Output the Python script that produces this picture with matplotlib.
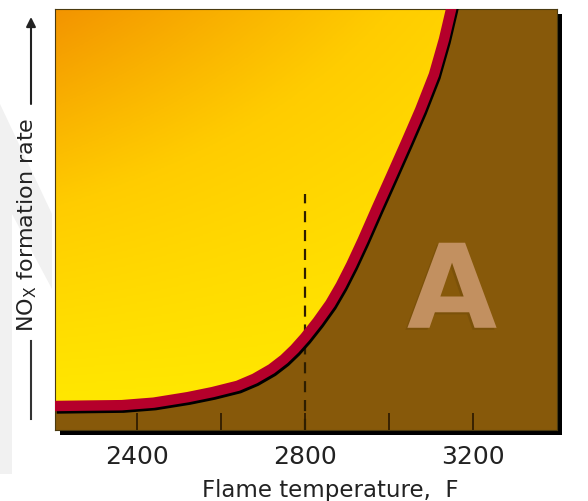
import numpy as np
import matplotlib.pyplot as plt
from matplotlib.colors import LinearSegmentedColormap
from matplotlib.patches import Polygon, Rectangle
import matplotlib.patheffects as pe

# curve (rate in arbitrary units, 0 = bottom, 100 = top)
temps = [2205, 2280, 2364, 2440, 2521, 2580, 2640, 2680, 2720, 2750, 2775, 2800,
         2830, 2860, 2885, 2910, 2937, 2970, 3005, 3041, 3074, 3107, 3131, 3148, 3156]
rates = [5.7, 5.8, 5.9, 6.5, 7.8, 9.0, 10.5, 12.2, 14.5, 16.8, 19.2, 22.0,
         25.8, 30.0, 34.3, 39.2, 45.0, 52.5, 60.3, 68.4, 76.0, 84.4, 92.8, 100.0, 104.0]

major_ticks = [2400, 2800, 3200]
minor_ticks = [2600, 3000]
ref_temp = 2800
ref_top = 56

XMIN, XMAX = 2205, 3400
YMIN, YMAX = 0, 100

BROWN = '#87590a'
RED = '#b5002b'

W, H = 588, 502
fig = plt.figure(figsize=(W / 100, H / 100), dpi=100)
fig.patch.set_facecolor('white')

# faint grey watermark at the left edge
px = [(0, 105), (52, 215), (52, 290), (12, 215), (12, 475), (0, 475)]
wm = Polygon([(x / W, 1 - y / H) for x, y in px], closed=True,
             transform=fig.transFigure, facecolor='#f1f1f1', edgecolor='none', zorder=-2)
fig.add_artist(wm)

# plot area in pixels: left 55, right 557, top 10, bottom 431
ax = fig.add_axes([55 / W, 1 - 431 / H, 502 / W, 421 / H])
ax.set_facecolor(BROWN)
ax.set_xlim(XMIN, XMAX)
ax.set_ylim(YMIN, YMAX)

# black drop shadow behind the plot box
shadow = Rectangle((60 / W, 1 - 436 / H), 502 / W, 421 / H, transform=fig.transFigure,
                   facecolor='black', edgecolor='none', zorder=-1)
fig.add_artist(shadow)

# yellow-orange gradient in the region above the curve
nx, ny = 300, 300
gx = np.linspace(0, 1, nx)
gy = np.linspace(0, 1, ny)
GX, GY = np.meshgrid(gx, gy)
grad = np.clip(GY ** 1.1 * (1 - 0.75 * GX), 0, 1)
cmap = LinearSegmentedColormap.from_list('flame', ['#ffea00', '#ffcc00', '#f39400'])
im = ax.imshow(grad, extent=[XMIN, XMAX, YMIN, YMAX], origin='lower', cmap=cmap,
               aspect='auto', zorder=1, interpolation='bilinear')
clip_pts = list(zip(temps, rates)) + [(temps[-1], 120), (XMIN - 50, 120), (XMIN - 50, rates[0])]
clip_poly = Polygon(clip_pts, closed=True, facecolor='none', edgecolor='none')
ax.add_patch(clip_poly)
im.set_clip_path(clip_poly)

# reference line at 2800 F
ax.plot([ref_temp, ref_temp], [YMIN, ref_top], color='#2e1e00', lw=1.6,
        dashes=(5, 3.5), zorder=2)

# the NOx curve with a black shadow underneath
ax.plot(temps, rates, color=RED, lw=7.5, solid_capstyle='butt', solid_joinstyle='round',
        zorder=3,
        path_effects=[pe.SimpleLineShadow(offset=(1.2, -1.8), shadow_color='black', alpha=1.0),
                      pe.Normal()])

# big "A" mark
ax.text(3150, 32, 'A', fontsize=84, fontweight='heavy', color='#c29060',
        ha='center', va='center', zorder=2, family='DejaVu Sans',
        path_effects=[pe.withSimplePatchShadow(offset=(-1.5, -1.5), shadow_rgbFace='#6a4508',
                                               alpha=0.4)])

# axes styling
for s in ax.spines.values():
    s.set_color('#4a3a10')
    s.set_linewidth(0.8)
ax.set_yticks([])
ax.set_xticks(major_ticks)
ax.set_xticks(minor_ticks, minor=True)
ax.tick_params(axis='x', which='both', direction='in', length=12, width=1.2,
               color='#2a1800', labelsize=18, pad=10)
ax.tick_params(axis='x', which='major', labelcolor='#222222')

# x label
fig.text(330 / W, 1 - 491 / H, 'Flame temperature,  F', ha='center', va='center',
         fontsize=16.5, color='#222222')

# y label with its arrow
fig.text(27 / W, 1 - 225 / H, r'NO$_{\mathregular{X}}$ formation rate', rotation=90,
         ha='center', va='center', fontsize=16, color='#222222')
fig.add_artist(plt.Line2D([31 / W, 31 / W], [1 - 342 / H, 1 - 420 / H],
                          transform=fig.transFigure, color='#333333', lw=1.5))
ax.annotate('', xy=(31 / W, 1 - 18 / H), xytext=(31 / W, 1 - 105 / H),
            xycoords='figure fraction', textcoords='figure fraction',
            arrowprops=dict(arrowstyle='-|>', color='#222222', lw=1.5,
                            mutation_scale=14, shrinkA=0, shrinkB=0),
            annotation_clip=False)

fig.savefig('out.png', dpi=100)
